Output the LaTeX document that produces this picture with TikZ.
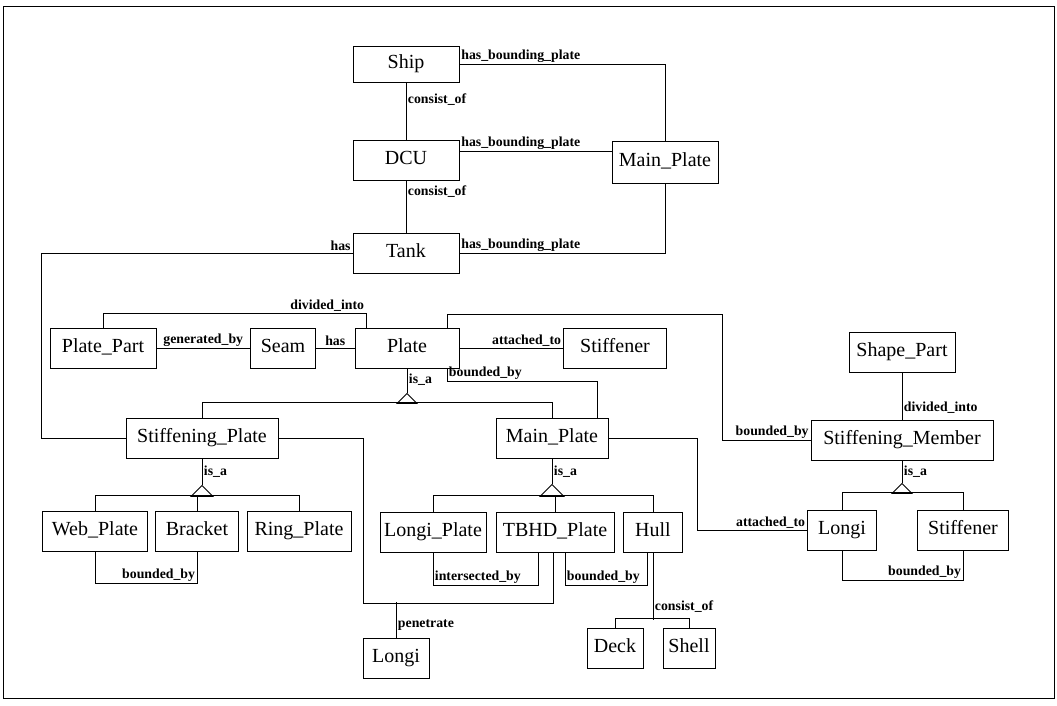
\documentclass[tikz,border=0pt]{standalone}
\usepackage{fontspec}
\setmainfont{Liberation Serif}
\usepackage{tikz}

\begin{document}
\begin{tikzpicture}[x=1pt,y=-1pt,line width=0.9pt,
    ent/.style={draw,minimum height=40pt,inner sep=2pt,text height=13pt,text depth=4pt,font=\fontsize{20}{22}\selectfont},
    lbl/.style={inner sep=1.5pt,font=\bfseries\fontsize{13.8}{15}\selectfont}]
  \useasboundingbox (0,0) rectangle (1057,705);
  \draw (3,6) rectangle (1054,698);

  % top part
  \node[ent,minimum width=106pt,minimum height=36pt] (ship) at (406,64) {Ship};
  \node[ent,minimum width=106pt] (dcu) at (406,160) {DCU};
  \node[ent,minimum width=106pt,minimum height=42pt] (mpt) at (665,162) {Main\_Plate};
  \node[ent,minimum width=106pt] (tank) at (406,253) {Tank};

  % plate row
  \node[ent,minimum width=106pt] (pp) at (103,348) {Plate\_Part};
  \node[ent,minimum width=65pt] (seam) at (283,348) {Seam};
  \node[ent,minimum width=104pt] (pl) at (407,348) {Plate};
  \node[ent,minimum width=103pt] (stf) at (615,348) {Stiffener};
  \node[ent,minimum width=152pt] (sp) at (202,438) {Stiffening\_Plate};
  \node[ent,minimum width=112pt] (mpl) at (552,438) {Main\_Plate};

  \node[ent,minimum width=105pt] (wp) at (95,531) {Web\_Plate};
  \node[ent,minimum width=83pt] (brk) at (197,531) {Bracket};
  \node[ent,minimum width=104pt] (rp) at (299,531) {Ring\_Plate};
  \node[ent,minimum width=106pt] (lp) at (433,532) {Longi\_Plate};
  \node[ent,minimum width=118pt] (tb) at (555,532) {TBHD\_Plate};
  \node[ent,minimum width=59pt] (hull) at (653,532) {Hull};
  \node[ent,minimum width=56pt] (deck) at (615,648) {Deck};
  \node[ent,minimum width=52pt] (shell) at (689,648) {Shell};
  \node[ent,minimum width=66pt] (lgb) at (396,658) {Longi};

  % stiffening member
  \node[ent,minimum width=106pt] (shp) at (902,352) {Shape\_Part};
  \node[ent,minimum width=182pt] (sm) at (902,440) {Stiffening\_Member};
  \node[ent,minimum width=69pt] (lgr) at (842,530) {Longi};
  \node[ent,minimum width=91pt] (stfr) at (963,530) {Stiffener};

  % relations
  \draw (ship.east) -| node[lbl,above right,pos=0]{has\_bounding\_plate} (mpt.north);
  \draw ([yshift=9pt]dcu.east) -- node[lbl,above right,pos=0]{has\_bounding\_plate} ([yshift=9pt]dcu.east -| mpt.west);
  \draw (tank.east) -| node[lbl,above right,pos=0]{has\_bounding\_plate} (mpt.south);
  \draw (ship) -- node[lbl,anchor=west,pos=0.3]{consist\_of} (dcu);
  \draw (dcu) -- node[lbl,anchor=west,pos=0.22]{consist\_of} (tank);
  \draw (tank.west) -| node[lbl,above left,pos=0]{has} ([xshift=-84pt]sp.west) -- (sp.west);

  \draw (pp.north) |- (366,313) node[lbl,above left]{divided\_into} -- ([xshift=-41pt]pl.north);
  \draw (pp) -- node[lbl,above]{generated\_by} (seam);
  \draw (seam) -- node[lbl,above]{has} (pl);
  \draw (pl) -- node[lbl,above left,pos=1]{attached\_to} (stf);
  \draw ([xshift=40pt]pl.north) |- (722,314) |- node[lbl,above left,pos=1]{bounded\_by} (sm.west);
  \draw ([xshift=40pt]pl.south) |- node[lbl,above right,pos=0.5]{bounded\_by} ([xshift=45pt,yshift=36pt]mpl.north) -- ([xshift=45pt]mpl.north);

  % is_a of Plate
  \draw (pl.south) -- ++(0,25) node[lbl,pos=0.45,right]{is\_a};
  \draw (pl.south) ++(0,25) -- ++(-10,10) -- ++(20,0) -- cycle;
  \draw (sp.north) -- ++(0,-15) -| (mpl.north);

  % is_a of Stiffening_Plate
  \draw (sp.south) -- ++(0,27) node[lbl,pos=0.5,right]{is\_a};
  \draw (sp.south) ++(0,27) -- ++(-11,11) -- ++(22,0) -- cycle;
  \draw (wp.north) -- ++(0,-15) -| (rp.north);
  \draw (brk.north) -- ++(0,-15);
  \draw (wp.south) -- ++(0,32) -| node[lbl,above left,pos=0.5]{bounded\_by} (brk.south);

  % is_a of Main_Plate
  \draw (mpl.south) -- ++(0,26) node[lbl,pos=0.5,right]{is\_a};
  \draw (mpl.south) ++(0,26) -- ++(-12,12) -- ++(24,0) -- cycle;
  \draw (lp.north) -- ++(0,-16) -| (hull.north);
  \draw (tb.north) -- ++(0,-16);
  \draw (lp.south) -- ++(0,33) -| node[lbl,above right,pos=0]{intersected\_by} ([xshift=-17pt]tb.south);
  \draw ([xshift=10pt]tb.south) -- ++(0,33) -| node[lbl,above right,pos=0]{bounded\_by} ([xshift=-6pt]hull.south);
  \draw (hull.south) -- node[lbl,anchor=west,pos=0.8]{consist\_of} ++(0,68);
  \draw (deck.north) -- ++(0,-9) -| (shell.north);
  \draw (sp.east) -| (363,603) -| ([xshift=-2pt]tb.south);
  \draw (lgb.north) -- node[lbl,anchor=west,pos=0.36]{penetrate} ++(0,-36);
  \draw (mpl.east) -| ([xshift=-110pt]lgr.west) -- node[lbl,above left,pos=1]{attached\_to} (lgr.west);

  % Stiffening_Member
  \draw (shp) -- node[lbl,anchor=west,pos=0.75]{divided\_into} (sm);
  \draw (sm.south) -- ++(0,23) node[lbl,pos=0.5,right]{is\_a};
  \draw (sm.south) ++(0,23) -- ++(-10,10) -- ++(20,0) -- cycle;
  \draw (lgr.north) -- ++(0,-17) -| (stfr.north);
  \draw (lgr.south) -- ++(0,30) -| node[lbl,above left,pos=0.5]{bounded\_by} (stfr.south);
\end{tikzpicture}
\end{document}
